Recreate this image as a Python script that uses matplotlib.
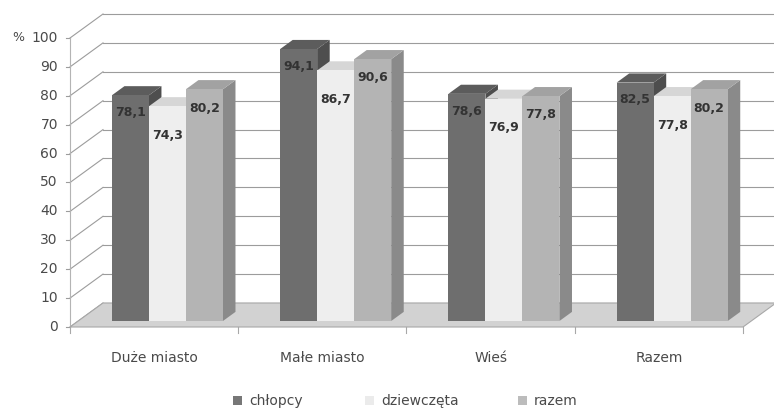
import matplotlib
matplotlib.use("Agg")
import matplotlib.pyplot as plt
from matplotlib.patches import Polygon

# ---- data -------------------------------------------------------------
categories = ["Duże miasto", "Małe miasto", "Wieś", "Razem"]
series_names = ["chłopcy", "dziewczęta", "razem"]
chlopcy = [78.1, 94.1, 78.6, 82.5]
dziewczeta = [74.3, 86.7, 76.9, 77.8]
razem = [80.2, 90.6, 77.8, 80.2]
y_ticks = [0, 10, 20, 30, 40, 50, 60, 70, 80, 90, 100]
y_max = 100

series_values = [chlopcy, dziewczeta, razem]

# ---- styling ----------------------------------------------------------
# (front, top, side) shades for each series
shades = [
    ("#6e6e6e", "#5c5c5c", "#4e4e4e"),
    ("#eeeeee", "#d6d6d6", "#c2c2c2"),
    ("#b4b4b4", "#a2a2a2", "#8a8a8a"),
]
legend_colors = ["#777777", "#ebebeb", "#bcbcbc"]
label_drop = [6.0, 10.0, 6.5]      # data-label distance below the bar top
grid_color = "#9c9c9c"
text_color = "#4a4a4a"

W, H = 774, 409
fig = plt.figure(figsize=(W / 100, H / 100), dpi=100)
ax = fig.add_axes([0, 0, 1, 1])

# scale of the drawing: one category slot and one percent in pixels
px_cat, px_pct = 168.25, 2.89
x_origin, y_origin = 70, 327
ax.set_xlim(-x_origin / px_cat, (W - x_origin) / px_cat)
ax.set_ylim(-(H - y_origin) / px_pct, y_origin / px_pct)
ax.axis("off")

# oblique depth vector of the whole plot box
DX, DY = 33 / px_cat, 24 / px_pct
n_cat = len(categories)
x_right = n_cat + DX + 0.3

# ---- back wall gridlines and side wall diagonals ---------------------
for v in y_ticks:
    ax.plot([DX, x_right], [v + DY, v + DY], color=grid_color, lw=0.8, zorder=1)
    ax.plot([0, DX], [v, v + DY], color=grid_color, lw=0.8, zorder=1)
    ax.plot([-0.025, 0], [v, v], color=grid_color, lw=0.8, zorder=1)
ax.plot([0, 0], [0, y_max], color="#b4b4b4", lw=0.8, zorder=1)

# ---- floor -------------------------------------------------------------
floor = Polygon([(0, 0), (n_cat, 0), (n_cat + DX, DY), (DX, DY)], closed=True,
                facecolor="#d2d2d2", edgecolor="#a8a8a8", lw=0.8, zorder=2)
ax.add_patch(floor)
for i in range(n_cat + 1):
    ax.plot([i, i], [0, -2.0], color="#a8a8a8", lw=0.8, zorder=2)

# ---- bars ----------------------------------------------------------------
bar_w = 0.22
group_off = 0.20
front_f, depth_f = 0.25, 0.38      # bar position and thickness in depth
fx, fy = front_f * DX, front_f * DY
bx, by = depth_f * DX, depth_f * DY

for i in range(n_cat):
    for j, vals in enumerate(series_values):
        v = vals[i]
        front, top, side = shades[j]
        x0 = i + group_off + j * bar_w + fx
        x1 = x0 + bar_w
        y0 = fy
        y1 = fy + v
        ax.add_patch(Polygon([(x1, y0), (x1 + bx, y0 + by), (x1 + bx, y1 + by), (x1, y1)],
                             closed=True, facecolor=side, edgecolor="none", zorder=3))
        ax.add_patch(Polygon([(x0, y1), (x1, y1), (x1 + bx, y1 + by), (x0 + bx, y1 + by)],
                             closed=True, facecolor=top, edgecolor="none", zorder=3))
        ax.bar(x0, v, width=bar_w, bottom=y0, align="edge", color=front,
               edgecolor="none", zorder=3)
        ax.text(x0 + bar_w / 2, y1 - label_drop[j], f"{v:.1f}".replace(".", ","),
                ha="center", va="center", fontsize=9, fontweight="bold",
                color="#333333", zorder=5)

# ---- axis texts ------------------------------------------------------------
for v in y_ticks:
    ax.text(-0.072, v, str(v), ha="right", va="center", fontsize=10, color=text_color)
ax.text(-0.345, y_max, "%", ha="left", va="center", fontsize=9, color=text_color)

for i, name in enumerate(categories):
    ax.text(i + 0.5, -10.7, name, ha="center", va="center", fontsize=10, color=text_color)

# ---- legend ----------------------------------------------------------------
legend_x = [233, 365, 518]
ly = -(401 - y_origin) / px_pct
for name, col, lx in zip(series_names, legend_colors, legend_x):
    sx = (lx - x_origin) / px_cat
    ax.add_patch(Polygon([(sx, ly - 1.5), (sx + 9 / px_cat, ly - 1.5),
                          (sx + 9 / px_cat, ly + 1.6), (sx, ly + 1.6)],
                         closed=True, facecolor=col, edgecolor="none", zorder=4))
    ax.text(sx + 16 / px_cat, ly, name, ha="left", va="center", fontsize=10, color=text_color)

fig.savefig("out.png", dpi=100)
